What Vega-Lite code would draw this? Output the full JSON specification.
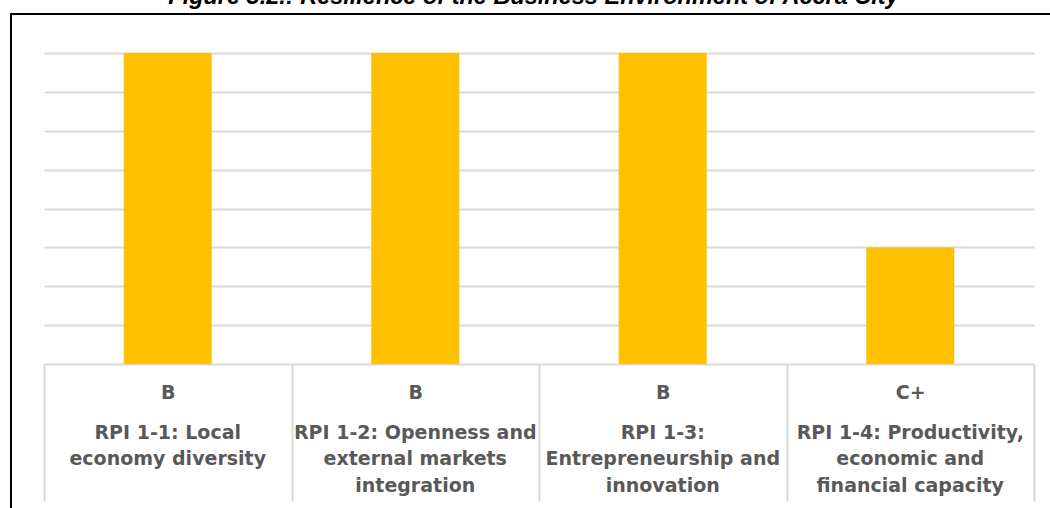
{
  "$schema": "https://vega.github.io/schema/vega-lite/v6.json",
  "width": 1045,
  "height": 500,
  "autosize": {"type": "none"},
  "padding": {"left": 11, "top": 14, "right": 0, "bottom": 0},
  "title": {
    "text": "Figure 3.2.: Resilience of the Business Environment of Accra City",
    "font": "Liberation Sans",
    "fontSize": 23.5,
    "fontStyle": "italic",
    "fontWeight": "bold",
    "color": "#000000",
    "anchor": "middle",
    "frame": "group",
    "baseline": "alphabetic",
    "offset": -13
  },
  "data": {
    "values": [
      {"label": "B|RPI 1-1: Local|economy diversity", "grade": "B", "score": 8},
      {"label": "B|RPI 1-2: Openness and|external markets|integration", "grade": "B", "score": 8},
      {"label": "B|RPI 1-3:|Entrepreneurship and|innovation", "grade": "B", "score": 8},
      {"label": "C+|RPI 1-4: Productivity,|economic and|financial capacity", "grade": "C+", "score": 3}
    ]
  },
  "config": {
    "view": {"stroke": "#000000", "strokeWidth": 2},
    "axis": {"labelFont": "DejaVu Sans", "labelFontSize": 19, "labelFontWeight": "bold", "labelColor": "#595959"}
  },
  "layer": [
    {
      "mark": {"type": "bar", "color": "#FFC000", "width": 88},
      "encoding": {
        "x": {
          "field": "label", "type": "nominal", "sort": null,
          "scale": {"range": [33, 1023], "paddingInner": 0, "paddingOuter": 0},
          "axis": {
            "orient": "bottom", "offset": -150, "title": null,
            "labelExpr": "isValid(datum.value) ? split(datum.value, '|')[0] : ''",
            "labelAngle": 0, "labelBaseline": "middle", "labelPadding": -109,
            "labelOverlap": false, "labelLimit": 0,
            "domain": true, "domainColor": "#d9d9d9", "domainWidth": 2,
            "ticks": true, "tickBand": "extent", "tickSize": 137, "tickColor": "#d9d9d9", "tickWidth": 2,
            "grid": false
          }
        },
        "y": {
          "field": "score", "type": "quantitative",
          "scale": {"domain": [0, 8], "range": [350, 39], "nice": false, "zero": true},
          "axis": {"title": null, "labels": false, "ticks": false, "domain": false, "grid": true, "gridColor": "#d9d9d9", "gridWidth": 2, "values": [1, 2, 3, 4, 5, 6, 7, 8]}
        }
      }
    },
    {
      "mark": {"type": "bar", "opacity": 0, "width": 88},
      "encoding": {
        "x": {
          "field": "label", "type": "nominal", "sort": null,
          "axis": {
            "orient": "bottom", "offset": -150, "title": null,
            "labelExpr": "isValid(datum.value) ? slice(split(datum.value, '|'), 1) : ''",
            "labelAngle": 0, "labelBaseline": "top", "labelPadding": 59, "labelLineHeight": 26.5,
            "labelOverlap": false, "labelLimit": 0,
            "domain": false, "ticks": false, "grid": false
          }
        },
        "y": {"field": "score", "type": "quantitative"}
      }
    }
  ],
  "resolve": {"axis": {"x": "independent"}}
}
